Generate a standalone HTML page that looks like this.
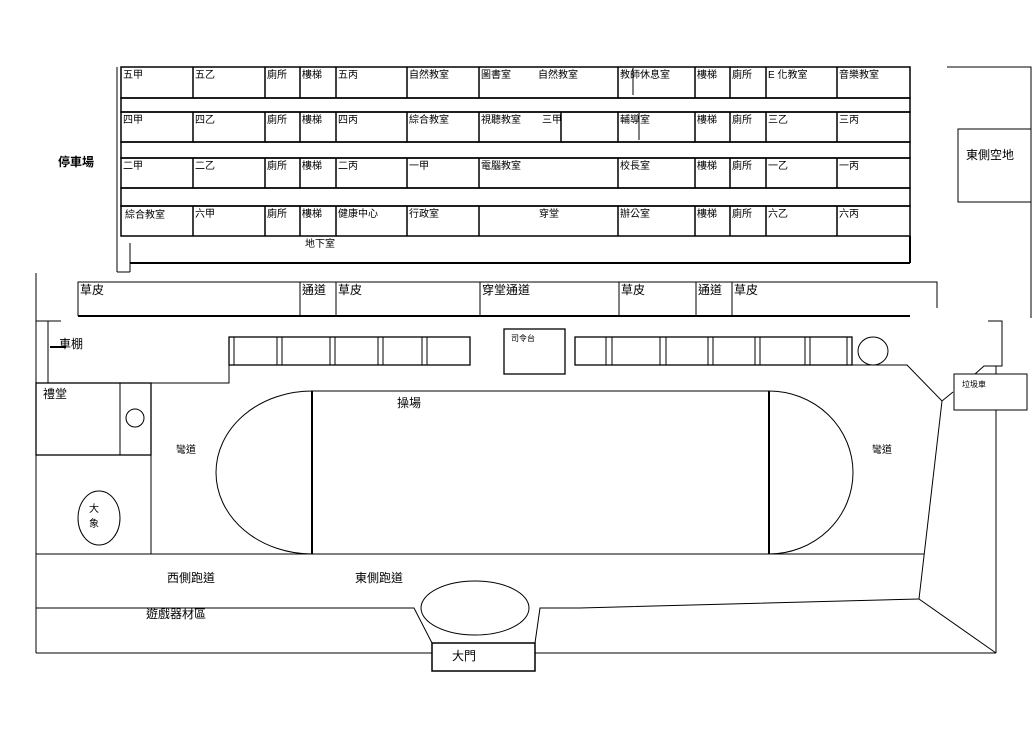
<!DOCTYPE html>
<html><head><meta charset="utf-8"><style>
body{margin:0;background:#fff}
svg text{font-family:"Liberation Sans","Noto Sans CJK TC",sans-serif;fill:#000}
</style></head><body>
<svg width="1032" height="729" viewBox="0 0 1032 729" xmlns="http://www.w3.org/2000/svg">
<rect width="1032" height="729" fill="#fff"/>
<g stroke="#000" fill="none" stroke-width="1">
<!-- building -->
<line x1="117" y1="67" x2="117" y2="272"/>
<line x1="117" y1="272" x2="130" y2="272"/>
<line x1="130" y1="243" x2="130" y2="272"/>
<line x1="121" y1="236" x2="910" y2="236"/>
<line x1="130" y1="263" x2="910" y2="263" stroke-width="2"/>
<line x1="910" y1="236" x2="910" y2="263" stroke-width="2"/>
<g stroke-width="1.5">
<rect x="121" y="67" width="789" height="31"/>
<rect x="121" y="98" width="789" height="14"/>
<rect x="121" y="112" width="789" height="30"/>
<rect x="121" y="142" width="789" height="16"/>
<rect x="121" y="158" width="789" height="30"/>
<rect x="121" y="188" width="789" height="18"/>
<rect x="121" y="206" width="789" height="30"/>
</g>
<g stroke-width="1.5">
<path d="M193 67V98M265 67V98M300 67V98M336 67V98M407 67V98M479 67V98M618 67V98M695 67V98M730 67V98M766 67V98M837 67V98"/>
<path d="M193 112V142M265 112V142M300 112V142M336 112V142M407 112V142M479 112V142M561 112V142M618 112V142M695 112V142M730 112V142M766 112V142M837 112V142"/>
<path d="M193 158V188M265 158V188M300 158V188M336 158V188M407 158V188M479 158V188M618 158V188M695 158V188M730 158V188M766 158V188M837 158V188"/>
<path d="M193 206V236M265 206V236M300 206V236M336 206V236M407 206V236M479 206V236M618 206V236M695 206V236M730 206V236M766 206V236M837 206V236"/>
</g>
<line x1="633" y1="68" x2="633" y2="95"/>
<line x1="639" y1="113" x2="639" y2="140"/>
<!-- east empty -->
<path d="M947 67H1031V318"/>
<rect x="958" y="129" width="73" height="73"/>
<!-- grass strip -->
<path d="M78 316V282H937V308"/>
<line x1="78" y1="316" x2="910" y2="316" stroke-width="2"/>
<path d="M300 282V316M336 282V316M480 282V316M619 282V316M696 282V316M732 282V316"/>
<!-- left -->
<line x1="36" y1="273" x2="36" y2="653"/>
<path d="M36 321H61M48 321V383H229V337"/>
<line x1="50" y1="347" x2="66" y2="347" stroke-width="2"/>
<!-- benches -->
<rect x="229" y="337" width="241" height="28" stroke-width="1.3"/>
<path d="M234 337V365M277 337V365M282 337V365M330 337V365M335 337V365M378 337V365M383 337V365M422 337V365M427 337V365"/>
<rect x="504" y="329" width="61" height="45" stroke-width="1.3"/>
<rect x="575" y="337" width="277" height="28" stroke-width="1.3"/>
<path d="M606 337V365M612 337V365M660 337V365M666 337V365M708 337V365M713 337V365M755 337V365M760 337V365M805 337V365M810 337V365M847 337V365"/>
<ellipse cx="873" cy="351" rx="15" ry="14"/>
<path d="M852 365H907L942 401L953 392"/>
<path d="M988 321H1002V366H984L975 374"/>
<rect x="954" y="374" width="73" height="36"/>
<path d="M996 366V374M996 410V653"/>
<path d="M942 401L919 599L996 653"/>
<!-- auditorium -->
<rect x="36" y="383" width="115" height="72" stroke-width="1.3"/>
<line x1="120" y1="383" x2="120" y2="455"/>
<circle cx="135" cy="418" r="9"/>
<line x1="151" y1="455" x2="151" y2="554"/>
<ellipse cx="99" cy="518" rx="21" ry="27"/>
<!-- field -->
<rect x="312" y="391" width="457" height="163"/>
<line x1="312" y1="391" x2="312" y2="554" stroke-width="2"/>
<line x1="769" y1="391" x2="769" y2="554" stroke-width="2"/>
<path d="M312 391A96 81.5 0 0 0 312 554"/>
<path d="M769 391A84 81.5 0 0 1 769 554"/>
<line x1="36" y1="554" x2="924" y2="554"/>
<!-- bottom -->
<path d="M36 608H414L432 643"/>
<path d="M535 643L540 608H580L919 599"/>
<rect x="432" y="643" width="103" height="28" stroke-width="1.5"/>
<ellipse cx="475" cy="608" rx="54" ry="27"/>
<path d="M36 653H432M535 653H996"/>
</g>
<g font-size="10">
<text x="123" y="78">五甲</text><text x="195" y="78">五乙</text><text x="267" y="78">廁所</text><text x="302" y="78">樓梯</text><text x="338" y="78">五丙</text><text x="409" y="78">自然教室</text><text x="481" y="78">圖書室</text><text x="538" y="78">自然教室</text><text x="620" y="78">教師休息室</text><text x="697" y="78">樓梯</text><text x="732" y="78">廁所</text><text x="768" y="78">E 化教室</text><text x="839" y="78">音樂教室</text>
<text x="123" y="123">四甲</text><text x="195" y="123">四乙</text><text x="267" y="123">廁所</text><text x="302" y="123">樓梯</text><text x="338" y="123">四丙</text><text x="409" y="123">綜合教室</text><text x="481" y="123">視聽教室</text><text x="542" y="123">三甲</text><text x="620" y="123">輔導室</text><text x="697" y="123">樓梯</text><text x="732" y="123">廁所</text><text x="768" y="123">三乙</text><text x="839" y="123">三丙</text>
<text x="123" y="169">二甲</text><text x="195" y="169">二乙</text><text x="267" y="169">廁所</text><text x="302" y="169">樓梯</text><text x="338" y="169">二丙</text><text x="409" y="169">一甲</text><text x="481" y="169">電腦教室</text><text x="620" y="169">校長室</text><text x="697" y="169">樓梯</text><text x="732" y="169">廁所</text><text x="768" y="169">一乙</text><text x="839" y="169">一丙</text>
<text x="125" y="218">綜合教室</text><text x="195" y="217">六甲</text><text x="267" y="217">廁所</text><text x="302" y="217">樓梯</text><text x="338" y="217">健康中心</text><text x="409" y="217">行政室</text><text x="539" y="217">穿堂</text><text x="620" y="217">辦公室</text><text x="697" y="217">樓梯</text><text x="732" y="217">廁所</text><text x="768" y="217">六乙</text><text x="839" y="217">六丙</text>
<text x="305" y="247">地下室</text>
<text x="176" y="453">彎道</text><text x="872" y="453">彎道</text>
<text x="89" y="512">大</text><text x="89" y="527">象</text>
<text x="962" y="387" font-size="8">垃圾車</text>
<text x="511" y="341" font-size="8">司令台</text>
</g>
<g font-size="12">
<text x="80" y="294">草皮</text><text x="302" y="294">通道</text><text x="338" y="294">草皮</text><text x="482" y="294">穿堂通道</text><text x="621" y="294">草皮</text><text x="698" y="294">通道</text><text x="734" y="294">草皮</text>
<text x="58" y="166" font-weight="bold">停車場</text>
<text x="966" y="159">東側空地</text>
<text x="59" y="348">車棚</text>
<text x="43" y="398">禮堂</text>
<text x="397" y="407">操場</text>
<text x="167" y="582">西側跑道</text>
<text x="355" y="582">東側跑道</text>
<text x="146" y="618">遊戲器材區</text>
<text x="452" y="660">大門</text>
</g>
</svg>
</body></html>
